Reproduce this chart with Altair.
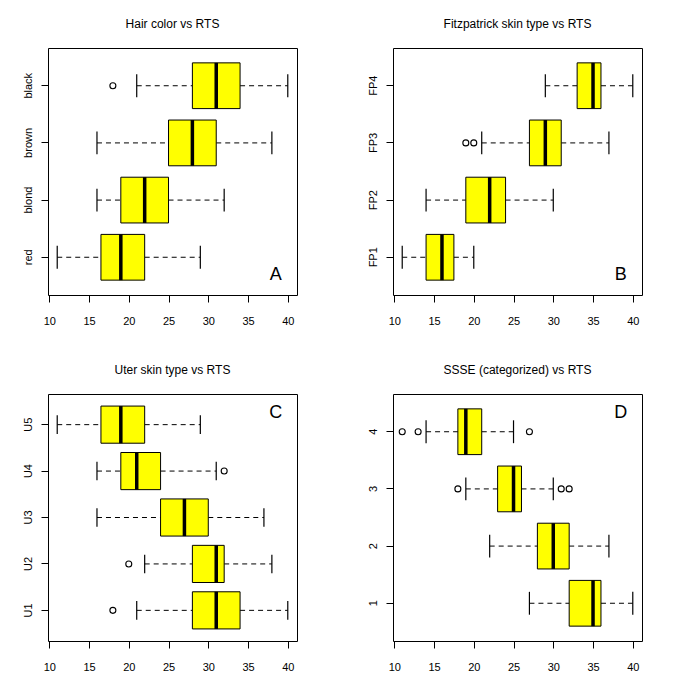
import altair as alt
import pandas as pd

# ---------------- data ----------------
# Panel A: Hair color vs RTS (bottom-to-top order)
a_cats = ["red", "blond", "brown", "black"]
a_lo = [11, 16, 16, 21]
a_q1 = [16.5, 19, 25, 28]
a_med = [19, 22, 28, 31]
a_q3 = [22, 25, 31, 34]
a_hi = [29, 32, 38, 40]
a_out_cat = ["black"]
a_out_val = [18]

# Panel B: Fitzpatrick skin type vs RTS
b_cats = ["FP1", "FP2", "FP3", "FP4"]
b_lo = [11, 14, 21, 29]
b_q1 = [14, 19, 27, 33]
b_med = [16, 22, 29, 35]
b_q3 = [17.5, 24, 31, 36]
b_hi = [20, 30, 37, 40]
b_out_cat = ["FP3", "FP3"]
b_out_val = [19, 20]

# Panel C: Uter skin type vs RTS
c_cats = ["U1", "U2", "U3", "U4", "U5"]
c_lo = [21, 22, 16, 16, 11]
c_q1 = [28, 28, 24, 19, 16.5]
c_med = [31, 31, 27, 21, 19]
c_q3 = [34, 32, 30, 24, 22]
c_hi = [40, 38, 37, 31, 29]
c_out_cat = ["U1", "U2", "U4"]
c_out_val = [18, 20, 32]

# Panel D: SSSE (categorized) vs RTS
d_cats = ["1", "2", "3", "4"]
d_lo = [27, 22, 19, 14]
d_q1 = [32, 28, 23, 18]
d_med = [35, 30, 25, 19]
d_q3 = [36, 32, 26, 21]
d_hi = [40, 37, 30, 25]
d_out_cat = ["3", "3", "3", "4", "4", "4"]
d_out_val = [18, 31, 32, 11, 13, 27]

x_ticks = [10, 15, 20, 25, 30, 35, 40]
x_domain = [9.84, 41.16]

titles = ["Hair color vs RTS", "Fitzpatrick skin type vs RTS",
          "Uter skin type vs RTS", "SSSE (categorized) vs RTS"]
letters = ["A", "B", "C", "D"]

W, H = 249, 247
FONT = "Liberation Sans"


def panel(cats, lo, q1, med, q3, hi, out_cat, out_val, title, letter, letter_top):
    n = len(cats)
    step = H / (n + 0.32)
    band = 0.8 * step
    df = pd.DataFrame({"cat": cats, "lo": lo, "q1": q1, "med": med, "q3": q3, "hi": hi})
    odf = pd.DataFrame({"cat": out_cat, "val": out_val})
    order = list(reversed(cats))
    yscale = alt.Scale(domain=order, paddingInner=0.2, paddingOuter=0.26)
    xscale = alt.Scale(domain=x_domain, nice=False, zero=False)
    xaxis = alt.Axis(values=x_ticks, format="d", title=None, tickSize=7, labelPadding=13,
                     minExtent=32, maxExtent=32, labelFlush=False)
    yaxis = alt.Axis(title=None, labelAngle=270, labelAlign="center", labelBaseline="bottom",
                     tickSize=7, labelPadding=8, minExtent=30, maxExtent=30)
    Y = alt.Y("cat:N", scale=yscale, axis=yaxis)
    base = alt.Chart(df)
    wl = base.mark_rule(color="black", strokeWidth=1, strokeDash=[5, 4], opacity=1).encode(
        x=alt.X("lo:Q", scale=xscale, axis=xaxis), x2="q1:Q", y=Y)
    wh = base.mark_rule(color="black", strokeWidth=1, strokeDash=[5, 4], opacity=1).encode(
        x=alt.X("q3:Q", scale=xscale, axis=xaxis), x2="hi:Q", y=Y)
    sl = base.mark_tick(color="black", thickness=1.2, size=band / 2, orient="vertical",
                        opacity=1).encode(
        x=alt.X("lo:Q", scale=xscale, axis=xaxis), y=Y)
    sh = base.mark_tick(color="black", thickness=1.2, size=band / 2, orient="vertical",
                        opacity=1).encode(
        x=alt.X("hi:Q", scale=xscale, axis=xaxis), y=Y)
    box = base.mark_bar(color="#FFFF00", stroke="black", strokeWidth=1, opacity=1).encode(
        x=alt.X("q1:Q", scale=xscale, axis=xaxis), x2="q3:Q", y=Y)
    md = base.mark_tick(color="black", thickness=3.5, size=band, orient="vertical",
                        opacity=1).encode(
        x=alt.X("med:Q", scale=xscale, axis=xaxis), y=Y)
    pts = alt.Chart(odf).mark_point(shape="circle", filled=False, color="black",
                                    strokeWidth=1.1, size=36, opacity=1).encode(
        x=alt.X("val:Q", scale=xscale, axis=xaxis), y=Y)
    lab = alt.Chart(pd.DataFrame({"t": [letter]})).mark_text(
        font=FONT, fontSize=18, color="black", align="center", baseline="middle").encode(
        x=alt.datum(38.5), y=alt.value(19 if letter_top else 227), text="t:N")
    return alt.layer(wl, wh, sl, sh, box, md, pts, lab).properties(
        width=W, height=H, title=alt.TitleParams(title, anchor="middle"))


pA = panel(a_cats, a_lo, a_q1, a_med, a_q3, a_hi, a_out_cat, a_out_val, titles[0], letters[0], False)
pB = panel(b_cats, b_lo, b_q1, b_med, b_q3, b_hi, b_out_cat, b_out_val, titles[1], letters[1], False)
pC = panel(c_cats, c_lo, c_q1, c_med, c_q3, c_hi, c_out_cat, c_out_val, titles[2], letters[2], True)
pD = panel(d_cats, d_lo, d_q1, d_med, d_q3, d_hi, d_out_cat, d_out_val, titles[3], letters[3], True)

chart = alt.vconcat(
    alt.hconcat(pA, pB, spacing=64),
    alt.hconcat(pC, pD, spacing=64),
    spacing=35,
).properties(
    padding={"left": 9, "top": 9, "right": 0, "bottom": 0},
    background="white",
).configure_view(
    stroke="black", strokeWidth=1
).configure_axis(
    grid=False, domain=False, tickColor="black", tickWidth=1,
    labelColor="black", labelFont=FONT, labelFontSize=11
).configure_title(
    font=FONT, fontSize=12, fontWeight="normal", color="black", offset=17
)

chart.save("out.html", embed_options={"renderer": "svg", "actions": False})
